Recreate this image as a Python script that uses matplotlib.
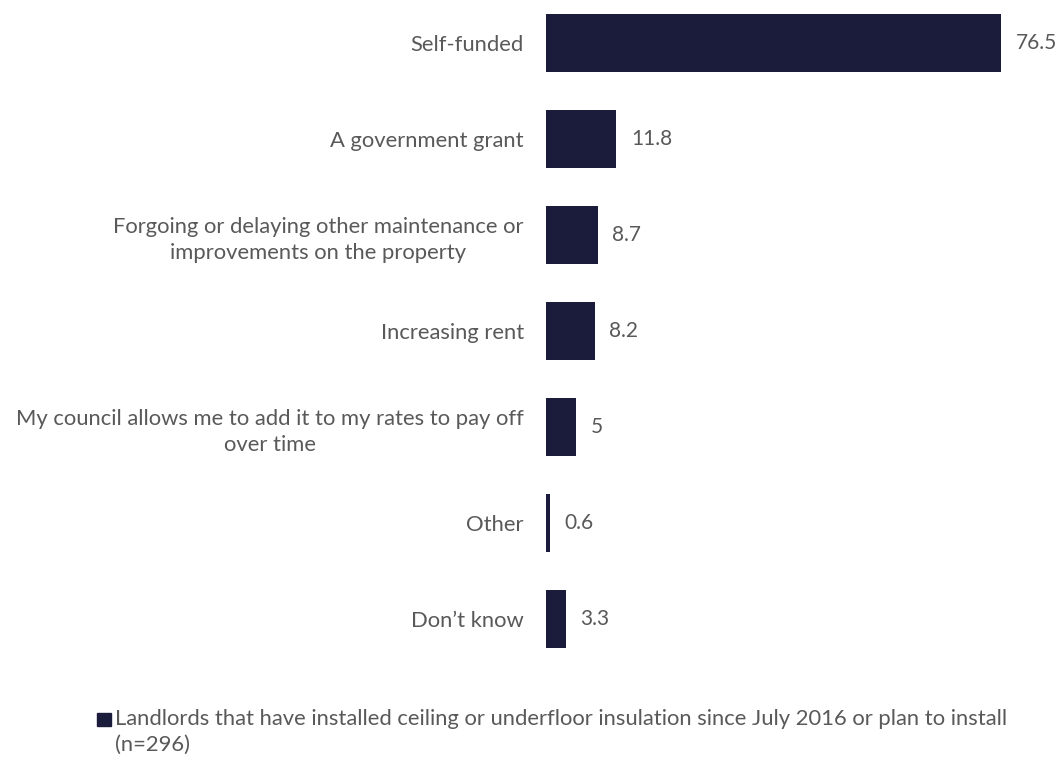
import matplotlib.pyplot as plt
from matplotlib.patches import Rectangle

categories = [
    "Self-funded",
    "A government grant",
    "Forgoing or delaying other maintenance or\nimprovements on the property",
    "Increasing rent",
    "My council allows me to add it to my rates to pay off\nover time",
    "Other",
    "Don\u2019t know",
]
values = [76.5, 11.8, 8.7, 8.2, 5, 0.6, 3.3]
value_labels = ["76.5", "11.8", "8.7", "8.2", "5", "0.6", "3.3"]
series_name = ("Landlords that have installed ceiling or underfloor insulation since July 2016 or plan to install\n"
               "(n=296)")

bar_color = "#1b1c3c"
text_color = "#595959"

plt.rcParams['font.family'] = ['Lato', 'DejaVu Sans']

W, H = 1064, 762
fig = plt.figure(figsize=(W / 100, H / 100), dpi=100)

# axes placed in pixel terms: bars start at x=546, 5.95 px per unit
x0, px_per_unit, xmax = 546, 5.95, 80
top_px, bot_px = 0, 668
ax = fig.add_axes([x0 / W, 1 - bot_px / H, xmax * px_per_unit / W, (bot_px - top_px) / H])

ypos = list(range(len(categories)))
bars = ax.barh(ypos, values, height=0.6, color=bar_color, label=series_name)

row_px, first_px = 96, 43
ax.set_ylim((bot_px - first_px) / row_px, (top_px - first_px) / row_px)
ax.set_xlim(0, xmax)

ax.set_yticks(ypos)
ax.set_yticklabels(categories, fontsize=15.8, color=text_color,
                   multialignment='center', linespacing=1.35)
ax.tick_params(axis='y', length=0, pad=16)
ax.set_xticks([])
for s in ax.spines.values():
    s.set_visible(False)

for y, v, lab in zip(ypos, values, value_labels):
    ax.annotate(lab, (v, y), xytext=(10.5, 0), textcoords='offset points',
                ha='left', va='center', fontsize=15, color=text_color)

# legend drawn by hand so the key sits beside the first line of the label
fig.patches.append(Rectangle((97 / W, 1 - 726 / H), 14 / W, 13 / H,
                             transform=fig.transFigure, color=bar_color))
fig.text(115 / W, 1 - 709 / H, series_name, ha='left', va='top',
         fontsize=15.8, color=text_color, linespacing=1.35)

fig.savefig("out.png", dpi=100, facecolor="white")
